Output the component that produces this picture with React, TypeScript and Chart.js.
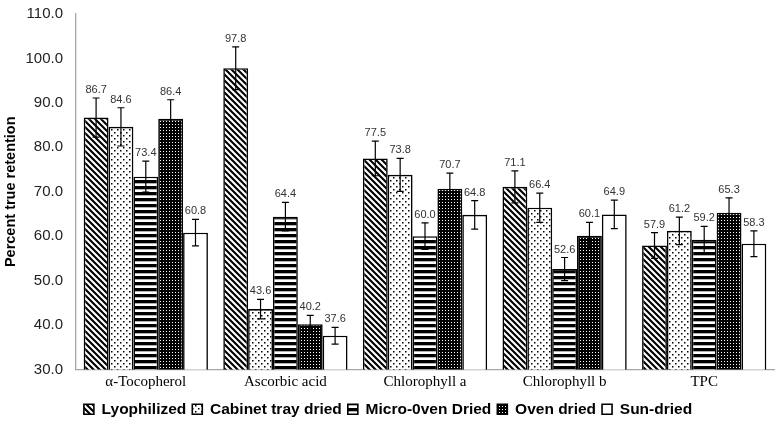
import React, { useEffect, useRef } from "react";
import { Chart, registerables } from "chart.js";

Chart.register(...registerables);

const categories = ["α-Tocopherol", "Ascorbic acid", "Chlorophyll a", "Chlorophyll b", "TPC"];
const seriesNames = ["Lyophilized", "Cabinet tray dried", "Micro-0ven Dried", "Oven dried", "Sun-dried"];
const lyophilized = [86.7, 97.8, 77.5, 71.1, 57.9];
const cabinetTray = [84.6, 43.6, 73.8, 66.4, 61.2];
const microOven = [73.4, 64.4, 60.0, 52.6, 59.2];
const ovenDried = [86.4, 40.2, 70.7, 60.1, 65.3];
const sunDried = [60.8, 37.6, 64.8, 64.9, 58.3];
const errLyophilized = [4.4, 4.8, 3.9, 3.6, 2.9];
const errCabinetTray = [4.3, 2.2, 3.7, 3.3, 3.1];
const errMicroOven = [3.5, 3.2, 3.0, 2.6, 3.0];
const errOvenDried = [4.3, 2.0, 3.5, 3.0, 3.3];
const errSunDried = [3.0, 1.9, 3.2, 3.2, 2.9];
const yTicks = [30, 40, 50, 60, 70, 80, 90, 100, 110];

function makePattern(kind: string): CanvasPattern | string {
  const c = document.createElement("canvas");
  const ctx = c.getContext("2d")!;
  if (kind === "diag") {
    const s = 6;
    c.width = s; c.height = s;
    ctx.fillStyle = "#fff"; ctx.fillRect(0, 0, s, s);
    ctx.strokeStyle = "#000"; ctx.lineWidth = 2.1;
    ctx.beginPath();
    for (let k = -2; k <= 2; k++) {
      ctx.moveTo(k * s - s, -s); ctx.lineTo(k * s + 2 * s, 2 * s);
    }
    ctx.stroke();
  } else if (kind === "dots") {
    c.width = 6; c.height = 6;
    ctx.fillStyle = "#fff"; ctx.fillRect(0, 0, 6, 6);
    ctx.fillStyle = "#000"; ctx.fillRect(0, 0, 1.5, 1.5);
    ctx.fillRect(3, 3, 1.5, 1.5);
  } else if (kind === "hstripe") {
    c.width = 6; c.height = 6;
    ctx.fillStyle = "#fff"; ctx.fillRect(0, 0, 6, 6);
    ctx.fillStyle = "#000"; ctx.fillRect(0, 0, 6, 3.3);
  } else if (kind === "check") {
    c.width = 3; c.height = 3;
    ctx.fillStyle = "#000"; ctx.fillRect(0, 0, 3, 3);
    ctx.fillStyle = "#fff"; ctx.fillRect(1, 1, 1, 1);
  } else {
    return "#ffffff";
  }
  return ctx.createPattern(c, "repeat")!;
}

const errorBarPlugin = {
  id: "errorBars",
  afterDatasetsDraw(chart: any) {
    const ctx = chart.ctx;
    const yScale = chart.scales.y;
    chart.data.datasets.forEach((ds: any, di: number) => {
      const meta = chart.getDatasetMeta(di);
      meta.data.forEach((el: any, i: number) => {
        const v = ds.data[i];
        const e = ds.errors[i];
        const yT = yScale.getPixelForValue(v + e);
        const yB = yScale.getPixelForValue(v - e);
        const x = el.x;
        ctx.save();
        ctx.strokeStyle = "#000";
        ctx.lineWidth = 1.2;
        ctx.beginPath();
        ctx.moveTo(x, yT); ctx.lineTo(x, yB);
        ctx.moveTo(x - 3.5, yT); ctx.lineTo(x + 3.5, yT);
        ctx.moveTo(x - 3.5, yB); ctx.lineTo(x + 3.5, yB);
        ctx.stroke();
        ctx.fillStyle = "#333";
        ctx.font = "11px 'Liberation Sans', Arial, sans-serif";
        ctx.textAlign = "center";
        ctx.textBaseline = "alphabetic";
        ctx.fillText(v.toFixed(1), x, yT - 5);
        ctx.restore();
      });
    });
  },
};

export default function App() {
  const ref = useRef<HTMLCanvasElement | null>(null);
  useEffect(() => {
    document.body.style.margin = "0";
    const values = [lyophilized, cabinetTray, microOven, ovenDried, sunDried];
    const errs = [errLyophilized, errCabinetTray, errMicroOven, errOvenDried, errSunDried];
    const kinds = ["diag", "dots", "hstripe", "check", "white"];
    const chart = new Chart(ref.current!, {
      type: "bar",
      data: {
        labels: categories,
        datasets: seriesNames.map((n, k) => ({
          label: n,
          data: values[k],
          errors: errs[k],
          backgroundColor: makePattern(kinds[k]),
          borderColor: "#000",
          borderWidth: 1.6,
          borderSkipped: "bottom",
          categoryPercentage: 0.89,
          barPercentage: 1.0,
        })) as any,
      },
      options: {
        animation: false,
        responsive: false,
        maintainAspectRatio: false,
        layout: { padding: { top: 14, right: 6, bottom: 3, left: 2 } },
        plugins: {
          tooltip: { enabled: false },
          legend: {
            position: "bottom",
            labels: {
              boxWidth: 10,
              boxHeight: 10,
              padding: 6,
              color: "#000",
              font: { family: "'Liberation Sans', Arial, sans-serif", size: 15.5, weight: "bold" },
            },
          },
        },
        scales: {
          x: {
            grid: { display: false, drawTicks: false },
            border: { display: true, color: "#a6a6a6", width: 1.3 },
            ticks: {
              color: "#000",
              padding: 4,
              font: { family: "'Liberation Serif', 'Times New Roman', serif", size: 15 },
            },
          },
          y: {
            min: 30,
            max: 110,
            afterBuildTicks: (scale: any) => {
              scale.ticks = yTicks.map((v) => ({ value: v }));
            },
            afterFit: (scale: any) => {
              scale.width = 74;
              scale.paddingTop = 0;
              scale.paddingBottom = 0;
            },
            grid: { display: false, drawTicks: false },
            border: { display: true, color: "#a6a6a6", width: 1.3 },
            ticks: {
              color: "#222",
              padding: 13,
              callback: (v: any) => Number(v).toFixed(1),
              font: { family: "'Liberation Sans', Arial, sans-serif", size: 15 },
            },
            title: {
              display: true,
              text: "Percent true retention",
              color: "#000",
              padding: { top: 0, bottom: 2 },
              font: { family: "'Liberation Sans', Arial, sans-serif", size: 14.5, weight: "bold" },
            },
          },
        },
      },
      plugins: [errorBarPlugin],
    } as any);
    return () => chart.destroy();
  }, []);
  return (
    <div style={{ position: "fixed", left: 0, top: 0, width: 780, height: 430 }}>
      <canvas ref={ref} width={780} height={430} />
    </div>
  );
}
